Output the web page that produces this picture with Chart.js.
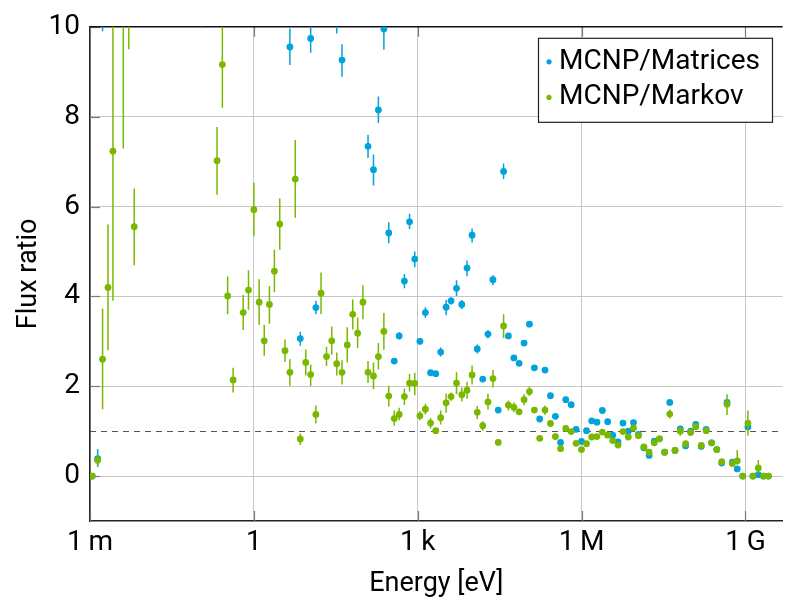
<!DOCTYPE html>
<html>
<head>
<meta charset="utf-8">
<script src="https://cdn.jsdelivr.net/npm/chart.js@4.4.1/dist/chart.umd.min.js"></script>
<style>
  html, body { margin: 0; padding: 0; background: #fff; }
  canvas { display: block; }
</style>
</head>
<body>
<canvas id="c" width="786" height="597"></canvas>
<script>
// Energy bins, log10(E / eV)
const logEnergy = [
  -2.96, -2.86, -2.77, -2.67, -2.58, -2.39, -2.29, -2.19,
  -0.95, -0.674, -0.577, -0.48, -0.38, -0.195, -0.098,
  0.0, 0.097, 0.19, 0.285, 0.376, 0.474, 0.57, 0.66, 0.758, 0.85, 0.95,
  1.04, 1.135, 1.23, 1.33, 1.426, 1.517, 1.614, 1.71, 1.81, 1.90, 1.997,
  2.09, 2.19, 2.28, 2.38, 2.47, 2.57, 2.66, 2.756, 2.85, 2.945,
  3.04, 3.14, 3.235, 3.33, 3.42, 3.52, 3.61, 3.71, 3.807, 3.903, 3.995,
  4.09, 4.19, 4.286, 4.377, 4.474, 4.572, 4.66, 4.76, 4.856, 4.947,
  5.045, 5.136, 5.233, 5.33, 5.43, 5.52, 5.615, 5.71, 5.81, 5.90, 5.998,
  6.09, 6.185, 6.28, 6.38, 6.477, 6.57, 6.667, 6.758, 6.855, 6.95,
  7.04, 7.14, 7.237, 7.33, 7.425, 7.52, 7.614, 7.71, 7.807, 7.905, 7.996,
  8.09, 8.19, 8.28, 8.38, 8.475, 8.566, 8.663, 8.76, 8.85, 8.95,
  9.045, 9.137, 9.235, 9.33, 9.42
];

// MCNP/Matrices
const matricesRatio = [
  0, 0.39, 11, null, null, null, null, null,
  null, null, null, null, null, null, null,
  null, null, null, null, null, null, null, 9.55, null, 3.06, null,
  9.74, 3.75, null, null, null, 11, 9.26, null, null, null, null,
  7.34, 6.82, 8.15, 9.95, 5.41, 2.56, 3.12, 4.34, 5.66, 4.83,
  3.0, 3.64, 2.3, 2.28, 2.76, 3.76, 3.9, 4.18, 3.82, 4.63, 5.36,
  2.83, 2.16, 3.16, 4.37, 1.47, 6.78, 3.12, 2.63, 2.51, 2.96,
  3.38, 2.41, 1.27, 2.36, 1.79, 1.33, 0.75, 1.7, 1.59, 1.04, 0.77,
  1.01, 1.23, 1.2, 1.46, 1.21, 0.91, 0.76, 1.18, 1.0, 1.19,
  0.93, 0.63, 0.46, 0.78, 0.83, 0.53, 1.64, 0.57, 1.05, 0.67, 1.0,
  1.15, 0.66, 1.04, 0.74, 0.59, 0.29, 1.64, 0.31, 0.16, 0,
  1.09, 0, 0.03, 0, 0
];
const matricesLow = [
  null, 0.2, 9.9, null, null, null, null, null,
  null, null, null, null, null, null, null,
  null, null, null, null, null, null, null, 9.15, null, 2.9, null,
  9.42, 3.61, null, null, null, 9.85, 8.89, null, null, null, null,
  7.08, 6.47, 7.86, 9.49, 5.18, 2.5, 3.04, 4.18, 5.5, 4.65,
  2.93, 3.52, null, null, 2.66, 3.58, 3.82, 4.01, 3.72, 4.45, 5.2,
  2.73, null, 3.06, 4.25, null, 6.61, null, null, null, null,
  null, null, null, null, null, null, null, null, null, null, null,
  null, null, null, null, null, null, null, null, null, null,
  null, null, null, null, null, null, null, null, null, null, null,
  null, null, null, null, null, null, 1.6, null, null, null,
  null, null, null, null, null
];
const matricesHigh = [
  null, 0.6, 12, null, null, null, null, null,
  null, null, null, null, null, null, null,
  null, null, null, null, null, null, null, 9.96, null, 3.21, null,
  10.05, 3.9, null, null, null, 12, 9.61, null, null, null, null,
  7.6, 7.16, 8.45, 10.4, 5.65, 2.62, 3.2, 4.5, 5.84, 5.0,
  3.07, 3.76, null, null, 2.86, 3.92, 3.98, 4.36, 3.92, 4.8, 5.51,
  2.93, null, 3.25, 4.47, null, 6.96, null, null, null, null,
  null, null, null, null, null, null, null, null, null, null, null,
  null, null, null, null, null, null, null, null, null, null,
  null, null, null, null, null, null, null, null, null, null, null,
  null, null, null, null, null, null, 1.7, null, null, null,
  null, null, null, null, null
];

// MCNP/Markov
const markovRatio = [
  0, 0.35, 2.6, 4.2, 7.23, 11, 11.5, 5.55,
  11, 7.02, 9.16, 4.01, 2.14, 3.64, 4.14,
  5.93, 3.87, 3.01, 3.82, 4.56, 5.61, 2.79, 2.31, 6.61, 0.825, 2.53,
  2.26, 1.37, 4.07, 2.66, 3.01, 2.5, 2.31, 2.92, 3.6, 3.18, 3.87,
  2.31, 2.23, 2.66, 3.22, 1.78, 1.28, 1.37, 1.77, 2.07, 2.06,
  1.34, 1.49, 1.18, 1.01, 1.3, 1.63, 1.77, 2.07, 1.81, 1.91, 2.25,
  1.42, 1.12, 1.65, 2.17, 0.75, 3.34, 1.58, 1.53, 1.43, 1.7,
  1.88, 1.47, 0.84, 1.47, 1.17, 0.88, 0.61, 1.06, 0.99, 0.73, 0.59,
  0.72, 0.87, 0.88, 0.98, 0.91, 0.79, 0.69, 0.99, 0.87, 1.07,
  0.9, 0.65, 0.53, 0.74, 0.83, 0.53, 1.38, 0.57, 1.0, 0.72, 0.97,
  1.1, 0.68, 1.01, 0.74, 0.59, 0.32, 1.6, 0.28, 0.34, 0,
  1.18, 0, 0.18, 0, 0
];
const markovLow = [
  null, 0.22, 1.49, 2.8, 3.9, 7.29, 9.5, 4.69,
  9.97, 6.26, 8.2, 3.6, 1.86, 3.25, 3.7,
  5.34, 3.37, 2.68, 3.39, 4.09, 5.04, 2.54, 2.01, 5.75, 0.69, 2.24,
  2.01, 1.17, 3.61, 2.45, 2.7, 2.24, 2.04, 2.53, 3.26, 2.85, 3.49,
  2.07, 1.93, 2.37, 2.81, 1.55, 1.12, 1.24, 1.58, 1.88, 1.8,
  1.24, 1.37, 1.06, 0.96, 1.15, 1.41, 1.67, 1.82, 1.66, 1.72, 2.04,
  1.27, 1.01, 1.48, 1.97, null, 3.07, 1.46, 1.42, 1.36, 1.57,
  1.78, null, null, 1.36, null, null, null, null, null, null, null,
  null, null, null, null, null, null, null, null, null, null,
  null, null, null, null, null, null, 1.28, null, 0.9, null, null,
  null, null, null, null, null, null, 1.36, null, 0.25, null,
  0.9, null, 0.07, null, null
];
const markovHigh = [
  null, 0.48, 3.73, 5.6, 10.6, 14.7, 13.5, 6.4,
  12, 7.77, 10.1, 4.44, 2.41, 4.03, 4.58,
  6.53, 4.38, 3.37, 4.23, 5.04, 6.18, 3.04, 2.6, 7.48, 0.95, 2.82,
  2.48, 1.57, 4.53, 2.88, 3.33, 2.75, 2.58, 3.31, 3.93, 3.53, 4.25,
  2.56, 2.53, 2.96, 3.63, 2.01, 1.46, 1.52, 1.95, 2.27, 2.3,
  1.45, 1.61, 1.29, 1.06, 1.46, 1.84, 1.86, 2.31, 1.97, 2.1, 2.46,
  1.56, 1.22, 1.83, 2.36, null, 3.6, 1.68, 1.64, 1.5, 1.82,
  1.99, null, null, 1.57, null, null, null, null, null, null, null,
  null, null, null, null, null, null, null, null, null, null,
  null, null, null, null, null, null, 1.48, null, 1.1, null, null,
  null, null, null, null, null, null, 1.82, null, 0.58, null,
  1.46, null, 0.36, null, null
];

const xTickValues = [1e-3, 1, 1e3, 1e6, 1e9];
const xTickLabels = ['1\u2009m', '1', '1\u2009k', '1\u2009M', '1\u2009G'];
const yTickValues = [0, 2, 4, 6, 8, 10];
const referenceLine = 1;

const BLUE = '#00a3da';
const GREEN = '#7ab800';
const FONT = 'Roboto, "DejaVu Sans", sans-serif';

function buildPoints(vals, lo, hi) {
  const pts = [];
  for (let i = 0; i < logEnergy.length; i++) {
    if (vals[i] === null) continue;
    pts.push({ x: Math.pow(10, logEnergy[i]), y: vals[i], lo: lo[i], hi: hi[i] });
  }
  return pts;
}

const errorBars = {
  id: 'errorBars',
  beforeDatasetDraw(chart, args) {
    const ds = chart.data.datasets[args.index];
    const { ctx, chartArea: a, scales: { x, y } } = chart;
    ctx.save();
    ctx.beginPath();
    ctx.rect(a.left, a.top, a.right - a.left, a.bottom - a.top);
    ctx.clip();
    ctx.strokeStyle = ds.borderColor;
    ctx.lineWidth = 1.5;
    ds.data.forEach(p => {
      if (p.lo === null || p.lo === undefined) return;
      const px = x.getPixelForValue(p.x);
      ctx.beginPath();
      ctx.moveTo(px, y.getPixelForValue(p.lo));
      ctx.lineTo(px, y.getPixelForValue(p.hi));
      ctx.stroke();
    });
    ctx.restore();
  }
};

const frame = {
  id: 'frame',
  beforeDatasetsDraw(chart) {
    const { ctx, chartArea: a, scales: { x, y } } = chart;
    ctx.save();
    const yr = Math.round(y.getPixelForValue(referenceLine)) + 0.5;
    ctx.strokeStyle = '#555';
    ctx.lineWidth = 1;
    ctx.setLineDash([6, 5]);
    ctx.beginPath();
    ctx.moveTo(a.left, yr);
    ctx.lineTo(a.right, yr);
    ctx.stroke();
    ctx.setLineDash([]);
    ctx.strokeStyle = '#7a7a7a';
    ctx.lineWidth = 1.2;
    yTickValues.forEach(v => {
      const py = Math.round(y.getPixelForValue(v)) + 0.5;
      ctx.beginPath(); ctx.moveTo(a.left, py); ctx.lineTo(a.left + 10, py); ctx.stroke();
    });
    xTickValues.forEach(v => {
      const px = Math.round(x.getPixelForValue(v)) + 0.5;
      ctx.beginPath(); ctx.moveTo(px, a.top); ctx.lineTo(px, a.top + 10); ctx.stroke();
      ctx.beginPath(); ctx.moveTo(px, a.bottom); ctx.lineTo(px, a.bottom - 10); ctx.stroke();
    });
    ctx.strokeStyle = '#111';
    ctx.lineWidth = 1.5;
    ctx.beginPath(); ctx.moveTo(a.left, a.top); ctx.lineTo(a.right, a.top); ctx.stroke();
    ctx.restore();
  },
  afterDraw(chart) {
    const { ctx, chartArea: a } = chart;
    const bx = a.left + 448, by = a.top + 11, bw = 234, bh = 84;
    ctx.save();
    ctx.fillStyle = '#fff';
    ctx.fillRect(bx, by, bw, bh);
    ctx.strokeStyle = '#222';
    ctx.lineWidth = 1.2;
    ctx.strokeRect(bx + 0.5, by + 0.5, bw, bh);
    ctx.font = '28px ' + FONT;
    ctx.textBaseline = 'middle';
    chart.data.datasets.forEach((ds, i) => {
      const cy = by + 24 + i * 35.6;
      ctx.fillStyle = ds.backgroundColor;
      ctx.beginPath(); ctx.arc(bx + 11, cy, 2.6, 0, Math.PI * 2); ctx.fill();
      ctx.fillStyle = '#000';
      ctx.fillText(ds.label, bx + 21, cy);
    });
    ctx.restore();
  }
};

new Chart(document.getElementById('c'), {
  type: 'scatter',
  data: {
    datasets: [
      {
        label: 'MCNP/Matrices',
        data: buildPoints(matricesRatio, matricesLow, matricesHigh),
        backgroundColor: BLUE, borderColor: BLUE,
        pointRadius: 3.4, pointBorderWidth: 0, pointHoverRadius: 3.4,
        order: 2, clip: 0
      },
      {
        label: 'MCNP/Markov',
        data: buildPoints(markovRatio, markovLow, markovHigh),
        backgroundColor: GREEN, borderColor: GREEN,
        pointRadius: 3.4, pointBorderWidth: 0, pointHoverRadius: 3.4,
        order: 1, clip: 0
      }
    ]
  },
  plugins: [errorBars, frame],
  options: {
    responsive: false,
    animation: false,
    events: [],
    layout: { padding: { top: 18, right: 0, left: 0, bottom: 0 } },
    plugins: { legend: { display: false }, tooltip: { enabled: false } },
    scales: {
      x: {
        type: 'logarithmic',
        min: 1e-3,
        max: Math.pow(10, 9.68),
        afterBuildTicks: s => { s.ticks = xTickValues.map(v => ({ value: v })); },
        afterFit: s => { s.height = 76; },
        ticks: {
          autoSkip: false, maxRotation: 0, padding: 5, color: '#000',
          font: { family: FONT, size: 28 },
          callback: (v, i) => xTickLabels[i]
        },
        grid: { color: '#c6c6c6', drawTicks: false, lineWidth: 1 },
        border: { color: '#222', width: 1.5 },
        title: { display: true, text: 'Energy [eV]', color: '#000', font: { family: FONT, size: 27 }, padding: { top: 0, bottom: -3 } }
      },
      y: {
        min: -1, max: 10,
        afterBuildTicks: s => { s.ticks = yTickValues.map(v => ({ value: v })); },
        afterFit: s => { s.width = 90; },
        ticks: {
          padding: 10, color: '#000',
          font: { family: FONT, size: 28 },
          callback: v => String(v)
        },
        grid: { color: '#c6c6c6', drawTicks: false, lineWidth: 1 },
        border: { color: '#222', width: 1.5 },
        title: { display: true, text: 'Flux ratio', color: '#000', font: { family: FONT, size: 27 }, padding: { top: 13, bottom: 0 } }
      }
    }
  }
});
</script>
</body>
</html>
